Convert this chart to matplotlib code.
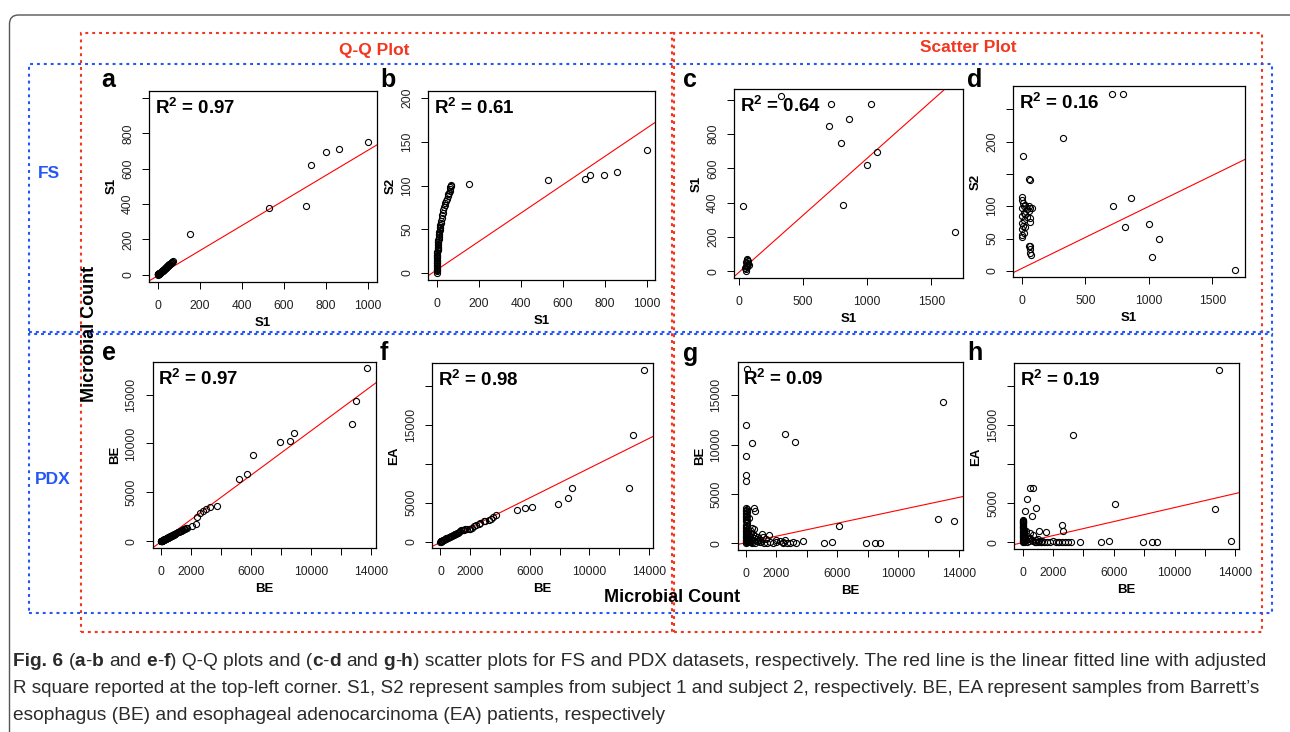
import matplotlib

matplotlib.use("Agg")
import matplotlib.pyplot as plt
from matplotlib import font_manager
from matplotlib.patches import Rectangle, FancyBboxPatch
from matplotlib.transforms import IdentityTransform

W, H = 1290, 732

# ---- data ---------------------------------------------------------------
PANELS = ["a", "b", "c", "d", "e", "f", "g", "h"]
XLABELS = ["S1", "S1", "S1", "S1", "BE", "BE", "BE", "BE"]
YLABELS = ["S1", "S2", "S1", "S2", "BE", "EA", "BE", "EA"]
R2 = [0.97, 0.61, 0.64, 0.16, 0.97, 0.98, 0.09, 0.19]
FIT_SLOPE = [0.712, 0.162, 0.663, 0.0959, 1.137, 0.952, 0.328, 0.448]
FIT_INTERCEPT = [-6.5, 3.5, -3.8, 3.8, -52, -76, 47, -21]

A_X = [0, 0, 1, 1, 2, 2, 3, 4, 4, 5, 6, 7, 8, 9, 10, 11, 12, 14, 15, 17,
       18, 20, 22, 23, 25, 27, 29, 31, 33, 35, 37, 39, 41, 43, 45, 47, 49, 51, 53, 55,
       57, 59, 61, 63, 65, 67, 69, 70, 72, 155, 530, 705, 730, 797, 860, 1000]
A_Y = [0, 1, 1, 2, 2, 3, 4, 4, 5, 6, 6, 7, 8, 9, 10, 11, 12, 13, 15, 16,
       18, 19, 21, 23, 25, 27, 29, 31, 33, 35, 38, 40, 42, 44, 47, 49, 51, 53, 56, 58,
       60, 62, 64, 66, 68, 70, 72, 74, 76, 228, 380, 390, 622, 695, 712, 752]

B_X = [0, 0, 0, 0, 0, 0, 1, 1, 1, 1, 1, 2, 2, 2, 3, 3, 3, 4, 4, 5,
       5, 6, 6, 7, 8, 8, 9, 10, 11, 12, 13, 14, 15, 17, 18, 20, 22, 24, 26, 28,
       31, 34, 38, 41, 44, 48, 52, 55, 58, 61, 63, 65, 66, 68,
       155, 530, 705, 728, 797, 860, 1000]
B_Y = [0, 2, 3, 5, 6, 8, 9, 11, 12, 14, 15, 17, 18, 20, 21, 23, 24, 26, 27, 29,
       30, 32, 33, 35, 36, 38, 39, 41, 43, 45, 47, 49, 51, 53, 55, 57, 60, 63, 66, 69,
       72, 75, 78, 80, 82, 85, 88, 90, 92, 94, 96, 98, 99, 101,
       102, 106, 107, 112, 112, 115, 141]

C_X = [31, 325, 715, 705, 858, 796, 1030, 1077, 999, 811, 1683,
       50, 55, 60, 65, 70, 55, 60, 65, 70, 50, 60, 75, 45]
C_Y = [378, 1021, 974, 847, 889, 750, 976, 694, 622, 389, 227,
       5, 15, 25, 35, 45, 55, 65, 72, 60, 30, 50, 40, 20]

D_X = [707, 796, 324, 8, 57, 715, 859, 814, 998, 1078, 1029, 1683,
       0, 0, 5, 0, 13, 26, 39, 52, 65, 13, 0, 26, 52, 65, 79, 0, 13, 39, 65, 0,
       5, 26, 0, 13, 0, 52, 65, 60, 65, 70, 60]
D_Y = [273, 273, 206, 178, 142, 101, 113, 68, 72, 50, 21, 2,
       115, 110, 105, 98, 100, 102, 95, 100, 98, 90, 85, 88, 93, 82, 98, 74, 78, 84, 76, 64,
       70, 68, 53, 58, 56, 39, 39, 34, 28, 24, 141]

E_X = [0, 20, 30, 60, 90, 120, 160, 200, 250, 300, 350, 400, 450, 500, 575, 650, 725,
       800, 875, 950, 1100, 1200, 1300, 1400, 1500, 1600, 1705, 2037, 2303, 2370, 2592,
       2813, 2990, 3256, 3743, 5183, 5714, 6134, 7907, 8571, 8817, 12691, 12957, 13708,
       10, 40, 75, 105, 140, 180, 225, 275, 325, 375, 425, 475, 540, 610, 690, 760, 840,
       910, 1020, 1150, 1250, 1350, 1450, 1550, 1650]
E_Y = [0, 15, 25, 50, 70, 100, 130, 160, 200, 240, 280, 320, 360, 400, 460, 520, 580,
       640, 710, 780, 900, 980, 1050, 1150, 1250, 1300, 1370, 1607, 1777, 2460, 2870,
       3144, 3280, 3485, 3588, 6355, 6908, 8856, 10148, 10291, 11111, 11962, 14350, 17670,
       5, 35, 60, 85, 115, 145, 180, 220, 260, 300, 340, 380, 430, 490, 550, 610, 680,
       750, 840, 940, 1010, 1100, 1200, 1280, 1340]

F_X = [0, 20, 60, 120, 200, 300, 400, 550, 700, 850, 1000, 1200, 1333, 1667, 2000,
       2222, 2556, 2889, 3244, 3733, 5156, 5689, 6133, 7911, 8556, 8800, 12667, 12956,
       13689, 900, 1100, 1500, 1800, 2400,
       10, 40, 90, 160, 250, 350, 480, 620, 780, 950, 1050, 1250, 1400, 1550, 1900, 2100,
       2650, 3000, 3400, 3500]
F_Y = [0, 25, 70, 140, 220, 320, 420, 560, 700, 850, 1000, 1150, 1316, 1573, 1658,
       2000, 2299, 2641, 2769, 3372, 4013, 4270, 4397, 4872, 5551, 6880, 6923, 13718,
       22000, 920, 1080, 1450, 1610, 2150,
       10, 45, 105, 180, 270, 370, 490, 630, 775, 960, 1040, 1230, 1500, 1540, 1640, 1800,
       2450, 2700, 2850, 3200]

G_PTS = [(87, 17716), (0, 11956), (2582, 11113), (3238, 10300), (394, 10128), (0, 8838),
         (0, 6877), (0, 6300), (12931, 14364), (12648, 2407), (13673, 2275), (6124, 1696),
         (3719, 244), (5142, 0), (5667, 102), (7921, 0), (8512, 0), (8818, 0),
         (0, 3600), (60, 3450), (0, 3300), (30, 3150), (0, 2950), (10, 2800), (0, 2600),
         (200, 2550), (525, 3596), (613, 3258), (0, 2400), (0, 2200), (30, 2000), (0, 1850),
         (50, 1700), (0, 1500), (0, 1350), (80, 1200), (0, 1100), (150, 1000), (0, 900),
         (40, 800), (0, 700), (100, 600), (0, 500), (200, 450), (0, 350), (50, 250),
         (0, 150), (100, 80), (0, 0), (300, 300), (400, 1500), (500, 1400), (350, 1200),
         (600, 700), (1028, 884), (1488, 813), (2560, 305), (800, 200), (1000, 100),
         (1200, 50), (1400, 0), (1600, 150), (1800, 0), (2000, 100), (2200, 250), (2400, 0),
         (2700, 50), (2900, 0), (3100, 80), (3300, 0), (700, 400), (900, 300), (1100, 600),
         (1300, 400), (2000, 300), (2400, 150), (600, 50), (400, 0), (250, 100),
         (20, 3400), (0, 3050), (40, 2700), (80, 2300), (0, 1650), (20, 1250), (60, 950),
         (0, 600), (30, 450), (120, 300), (200, 150), (0, 250), (250, 600), (180, 800),
         (300, 1000), (450, 900), (500, 500), (330, 100), (150, 200), (700, 200),
         (800, 600), (900, 100)]

H_PTS = [(12927, 22090), (3281, 13718), (6102, 4872), (12664, 4269), (13694, 167),
         (459, 6923), (678, 6966), (289, 5551), (899, 4397), (131, 4013), (617, 3372),
         (2605, 2218), (2670, 1449), (1096, 1410), (1531, 1325), (5144, 38), (5690, 167),
         (3740, 38), (7920, 0), (8530, 0), (8815, 0),
         (0, 2859), (0, 2700), (30, 2550), (0, 2431), (0, 2250), (50, 2100), (0, 1950),
         (0, 1800), (100, 1650), (0, 1500), (200, 1400), (0, 1300), (0, 1150), (80, 1000),
         (0, 900), (300, 850), (0, 750), (150, 600), (0, 500), (400, 450), (0, 350),
         (250, 250), (0, 200), (100, 100), (0, 0), (500, 1200), (700, 900), (600, 300),
         (800, 100), (1000, 0), (1200, 50), (1400, 0), (1600, 100), (1800, 0), (2000, 200),
         (2200, 0), (2400, 50), (2600, 0), (2800, 100), (3000, 0), (3200, 0), (900, 300),
         (1100, 200), (1300, 150), (2300, 80),
         (0, 2800), (20, 2650), (0, 2350), (40, 2000), (0, 1700), (20, 1400), (60, 1200),
         (0, 1050), (30, 800), (0, 650), (120, 450), (200, 300), (300, 100), (400, 200),
         (500, 600), (50, 150), (700, 150), (900, 50), (1000, 400), (1200, 0)]

S_QQ_TICKS = [0, 200, 400, 600, 800, 1000]
S_QQ_LABELS = ["0", "200", "400", "600", "800", "1000"]
S_SC_TICKS = [0, 500, 1000, 1500]
S_SC_LABELS = ["0", "500", "1000", "1500"]
BE_TICKS = [0, 2000, 4000, 6000, 8000, 10000, 12000, 14000]
BE_LABELS = ["0", "2000", "", "6000", "", "10000", "", "14000"]

Y_TICKS = [[0, 200, 400, 600, 800, 1000], [0, 50, 100, 150, 200],
           [0, 200, 400, 600, 800, 1000], [0, 50, 100, 150, 200, 250],
           [0, 5000, 10000, 15000], [0, 5000, 10000, 15000, 20000],
           [0, 5000, 10000, 15000], [0, 5000, 10000, 15000, 20000]]
Y_LABELS = [["0", "200", "400", "600", "800", ""], ["0", "50", "100", "150", "200"],
            ["0", "200", "400", "600", "800", ""], ["0", "50", "100", "", "200", ""],
            ["0", "5000", "10000", "15000"], ["0", "5000", "", "15000", ""],
            ["0", "5000", "10000", "15000"], ["0", "5000", "", "15000", ""]]

CAPTION = [
    [("Fig. 6", True), (" (", False), ("a", True), ("-", False), ("b", True),
     (" and ", False), ("e", True), ("-", False), ("f", True),
     (") Q-Q plots and (", False), ("c", True), ("-", False), ("d", True),
     (" and ", False), ("g", True), ("-", False), ("h", True),
     (") scatter plots for FS and PDX datasets, respectively. The red line is the "
      "linear fitted line with adjusted", False)],
    [("R square reported at the top-left corner. S1, S2 represent samples from subject 1 "
      "and subject 2, respectively. BE, EA represent samples from Barrett\u2019s", False)],
    [("esophagus (BE) and esophageal adenocarcinoma (EA) patients, respectively", False)],
]

# ---- layout (pixels, from top-left) --------------------------------------
AX_BOX = [(149.3, 91, 376.7, 281.7), (428.3, 91, 655, 280),
          (734.3, 89.3, 963.3, 278.3), (1013.3, 86, 1245, 277.3),
          (152.7, 362.3, 376, 548.3), (432.3, 363.3, 653.3, 548.3),
          (737.7, 362.3, 962.7, 550), (1014.3, 363.3, 1239.3, 549.3)]
XLIMS = [(-40, 1040), (-40, 1040), (-38, 1750), (-68, 1758),
         (-550, 14300), (-550, 14290), (-550, 14250), (-550, 14250)]
YLIMS = [(-40, 1040), (-8, 208), (-40, 1060), (-10, 286),
         (-720, 18300), (-850, 22900), (-700, 18350), (-880, 22900)]
LETTER_X = [101.7, 380, 683.3, 967.3]
LETTER_BASE = [87, 360.5]

RED = "#f2361f"
BLUE = "#2457f5"

plt.rcParams["font.family"] = "Liberation Sans"
plt.rcParams["mathtext.fontset"] = "custom"
plt.rcParams["mathtext.rm"] = "Liberation Sans"
plt.rcParams["mathtext.bf"] = "Liberation Sans:bold"

installed = {f.name for f in font_manager.fontManager.ttflist}
CAP_FONT = "Liberation Sans Narrow" if "Liberation Sans Narrow" in installed else "Liberation Sans"


def fx(x):
    return x / W


def fy(y):
    return 1 - y / H


fig = plt.figure(figsize=(W / 100, H / 100), dpi=100)
fig.patch.set_facecolor("white")

# outer rounded frame, runs off right and bottom
fig.patches.append(FancyBboxPatch((9.5, -30), 1320, (H - 15) + 30,
                                  boxstyle="round,pad=0,rounding_size=9",
                                  transform=IdentityTransform(), fill=False,
                                  ec="#555555", lw=1.0, zorder=0))


def dotted_box(l, t, r, b, color):
    fig.patches.append(Rectangle((fx(l), fy(b)), (r - l) / W, (b - t) / H,
                                 transform=fig.transFigure, fill=False, ec=color,
                                 lw=1.5, ls=(0, (1.4, 1.9)), zorder=1))


dotted_box(81, 33, 672, 632, RED)
dotted_box(674, 33, 1262, 632, RED)
dotted_box(29, 64, 1272, 332, BLUE)
dotted_box(29, 334, 1272, 613, BLUE)

fig.text(fx(374), fy(50), "Q-Q Plot", color=RED, fontsize=12.5, fontweight="bold",
         ha="center", va="center")
fig.text(fx(968), fy(48), "Scatter Plot", color=RED, fontsize=12.5, fontweight="bold",
         ha="center", va="center")
fig.text(fx(49), fy(173), "FS", color=BLUE, fontsize=12.5, fontweight="bold",
         ha="center", va="center")
fig.text(fx(53), fy(480), "PDX", color=BLUE, fontsize=12.5, fontweight="bold",
         ha="center", va="center")
fig.text(fx(90), fy(334), "Microbial Count", fontsize=13, fontweight="bold",
         rotation=90, ha="center", va="center", zorder=5)
fig.text(fx(672), fy(597), "Microbial Count", fontsize=13, fontweight="bold",
         ha="center", va="center", zorder=5)

points = [(A_X, A_Y), (B_X, B_Y), (C_X, C_Y), (D_X, D_Y), (E_X, E_Y), (F_X, F_Y),
          tuple(zip(*G_PTS)), tuple(zip(*H_PTS))]

for i, key in enumerate(PANELS):
    l, t, r, b = AX_BOX[i]
    ax = fig.add_axes([fx(l), fy(b), (r - l) / W, (b - t) / H])
    xs, ys = points[i]
    ax.plot(xs, ys, ls="", marker="o", ms=4.4, mfc="none", mec="black", mew=0.8,
            zorder=3)
    ax.axline((0, FIT_INTERCEPT[i]), slope=FIT_SLOPE[i], color="red", lw=0.8, zorder=2)
    ax.set_xlim(*XLIMS[i])
    ax.set_ylim(*YLIMS[i])

    if i < 2:
        ax.set_xticks(S_QQ_TICKS, S_QQ_LABELS)
    elif i < 4:
        ax.set_xticks(S_SC_TICKS, S_SC_LABELS)
    else:
        ax.set_xticks(BE_TICKS, BE_LABELS)
    ax.set_yticks(Y_TICKS[i], Y_LABELS[i], rotation=90, va="center")

    ax.tick_params(direction="out", length=5, width=0.7, labelsize=8.7,
                   labelcolor="#222222")
    ax.tick_params(axis="x", pad=8)
    ax.tick_params(axis="y", pad=6)
    for sp in ax.spines.values():
        sp.set_linewidth(0.9)

    fig.text(fx(l + 5.5), fy(t + 23), r"$\mathbf{R^2}$ = %.2f" % R2[i],
             fontsize=13.5, fontweight="bold", ha="left", va="baseline")
    fig.text(fx((l + r) / 2), fy(b + 41), XLABELS[i], fontsize=9.5,
             fontweight="bold", ha="center", va="center")
    fig.text(fx(l - 38), fy((t + b) / 2), YLABELS[i], fontsize=9.5,
             fontweight="bold", rotation=90, ha="center", va="center")
    fig.text(fx(LETTER_X[i % 4]), fy(LETTER_BASE[i // 4]), key, fontsize=18,
             fontweight="bold", ha="left", va="baseline")

# ---- caption, laid out run by run ----------------------------------------
rend = fig.canvas.get_renderer()


def seg_width(s, bold, size):
    t = fig.text(0, 0, s, fontsize=size, fontweight="bold" if bold else "normal",
                 family=CAP_FONT)
    w = t.get_window_extent(rend).width
    t.remove()
    return w


def run_layout(runs, size):
    out = []
    x = 0.0
    for s, bold in runs:
        core = s.strip(" ")
        lead = len(s) - len(s.lstrip(" "))
        trail = len(s) - len(s.rstrip(" "))
        sp = seg_width("x x", bold, size) - seg_width("xx", bold, size)
        x += lead * sp
        out.append((x, core, bold))
        x += seg_width(core, bold, size) + trail * sp
    return out, x


CAP_X0 = 13
CAP_BASE = [666, 693, 720]
CAP_TARGET = [1259, 1258, None]
_, w10 = run_layout(CAPTION[0], 10)
base_size = 10 * CAP_TARGET[0] / w10
for li, runs in enumerate(CAPTION):
    size = base_size
    if CAP_TARGET[li] is not None:
        _, wl = run_layout(runs, 10)
        size = 10 * CAP_TARGET[li] / wl
    parts, _ = run_layout(runs, size)
    for x, core, bold in parts:
        fig.text(fx(CAP_X0 + x), fy(CAP_BASE[li]), core, fontsize=size,
                 fontweight="bold" if bold else "normal", family=CAP_FONT,
                 color="#2b2b2b", ha="left", va="baseline")

fig.savefig("out.png", dpi=100)
